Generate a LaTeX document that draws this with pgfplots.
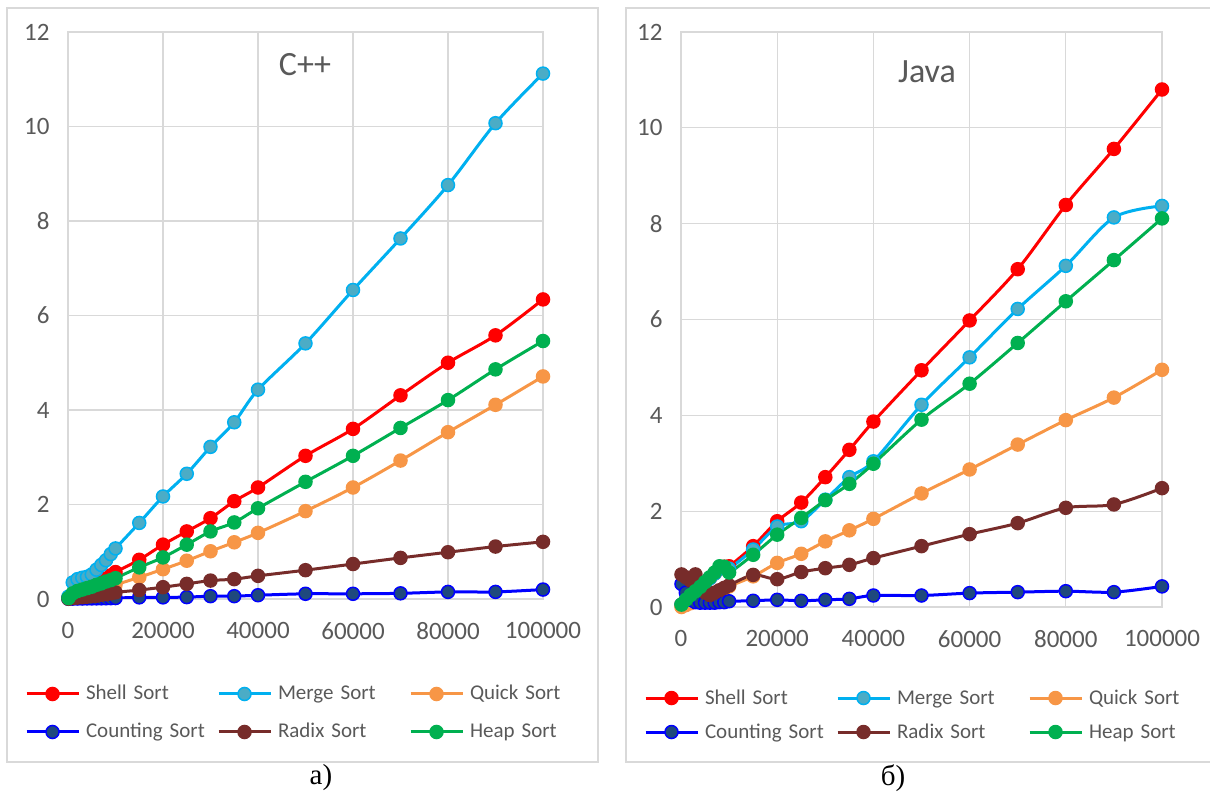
\documentclass[border=0pt]{standalone}
\usepackage{pgfplots}
\usepackage{pgfplotstable}
\pgfplotsset{compat=1.18}
\usepackage{fontspec}
\setmainfont{Carlito}
\newfontfamily\capfont{Liberation Serif}
\definecolor{cshell}{HTML}{FF0000}
\definecolor{cmerge}{HTML}{00B0F0}
\definecolor{cmergef}{HTML}{4BACC6}
\definecolor{cquick}{HTML}{F79646}
\definecolor{ccount}{HTML}{0000FF}
\definecolor{ccountf}{HTML}{1F497D}
\definecolor{cradix}{HTML}{772C2A}
\definecolor{cheap}{HTML}{00B050}
\definecolor{cgrid}{HTML}{D9D9D9}
\definecolor{ctick}{HTML}{595959}

\pgfplotstableread{
x      shell merge quick count radix heap
100    0.02  0.05  0.01  0.005 0.005 0.02
1000   0.06  0.35  0.03  0.008 0.02  0.12
2000   0.11  0.42  0.06  0.010 0.03  0.17
3000   0.16  0.45  0.09  0.010 0.04  0.20
4000   0.21  0.47  0.12  0.012 0.05  0.23
5000   0.26  0.52  0.15  0.012 0.06  0.26
6000   0.31  0.62  0.18  0.014 0.07  0.30
7000   0.37  0.72  0.21  0.015 0.09  0.33
8000   0.43  0.82  0.24  0.016 0.10  0.37
9000   0.50  0.95  0.27  0.018 0.12  0.40
10000  0.57  1.07  0.30  0.020 0.14  0.44
15000  0.83  1.61  0.46  0.035 0.19  0.67
20000  1.15  2.17  0.63  0.035 0.25  0.88
25000  1.43  2.65  0.81  0.040 0.32  1.15
30000  1.71  3.22  1.01  0.060 0.39  1.43
35000  2.07  3.74  1.20  0.060 0.42  1.62
40000  2.36  4.43  1.40  0.080 0.49  1.92
50000  3.03  5.41  1.86  0.110 0.61  2.48
60000  3.60  6.54  2.36  0.110 0.74  3.03
70000  4.31  7.63  2.93  0.120 0.87  3.62
80000  5.00  8.76  3.53  0.150 0.99  4.21
90000  5.58  10.07 4.11  0.150 1.11  4.86
100000 6.34  11.12 4.71  0.200 1.21  5.46
}\cpp

\pgfplotstableread{
x      shell merge quick count radix heap
100    0.05  0.05  0.00  0.48  0.68  0.05
1000   0.12  0.12  0.04  0.30  0.62  0.15
2000   0.20  0.20  0.08  0.15  0.55  0.25
3000   0.30  0.30  0.12  0.10  0.68  0.33
4000   0.40  0.40  0.16  0.09  0.45  0.42
5000   0.50  0.50  0.20  0.09  0.30  0.52
6000   0.60  0.60  0.24  0.09  0.25  0.62
7000   0.70  0.70  0.28  0.09  0.30  0.72
8000   0.80  0.80  0.32  0.10  0.35  0.85
9000   0.84  0.82  0.37  0.10  0.40  0.84
10000  0.85  0.80  0.43  0.12  0.45  0.72
15000  1.27  1.20  0.64  0.13  0.67  1.09
20000  1.79  1.68  0.92  0.15  0.58  1.51
25000  2.18  1.79  1.11  0.13  0.73  1.86
30000  2.71  2.24  1.37  0.15  0.81  2.23
35000  3.28  2.71  1.60  0.17  0.88  2.57
40000  3.87  3.04  1.84  0.24  1.02  2.99
50000  4.94  4.22  2.37  0.24  1.27  3.91
60000  5.98  5.21  2.87  0.29  1.52  4.66
70000  7.05  6.22  3.39  0.31  1.75  5.51
80000  8.39  7.12  3.90  0.33  2.07  6.38
90000  9.56  8.13  4.37  0.31  2.14  7.24
100000 10.80 8.37  4.95  0.43  2.48  8.11
}\java

\pgfplotsset{
  sortaxis/.style={
    scale only axis,
    xmin=0, xmax=100000, ymin=0, ymax=12,
    xtick={0,20000,40000,60000,80000,100000},
    ytick={0,2,4,6,8,10,12},
    grid=major,
    major grid style={cgrid, line width=1.3pt},
    axis line style={cgrid, line width=1.3pt},
    major tick length=0pt,
    scaled x ticks=false,
    /pgf/number format/assume math mode=true,
    xticklabel style={/pgf/number format/fixed, /pgf/number format/1000 sep={}, yshift=-20pt},
    yticklabel style={xshift=-15pt},
    tick label style={font=\fontsize{25}{25}\selectfont, text=ctick},
    every axis plot/.append style={smooth, tension=0.5, line width=3pt, mark=*, mark size=6.5pt},
    legend columns=3,
    legend cell align=left,
    legend image code/.code={\draw[mark repeat=2,mark phase=2,##1] plot coordinates {(0pt,0pt) (26pt,0pt) (52pt,0pt)};},
    legend style={draw=none, fill=none, inner sep=0pt, outer sep=0pt,
      font=\fontsize{21}{21}\selectfont, text=ctick,
      /tikz/every odd column/.append style={column sep=6pt},
      /tikz/every even column/.append style={column sep=0pt},
      nodes={inner sep=0pt, text width=131pt, align=left, text height=16pt, text depth=4pt}},
  },
  pshell/.style={color=cshell, mark options={solid, fill=cshell, line width=1.5pt}},
  pmerge/.style={color=cmerge, mark options={solid, fill=cmergef, line width=1.5pt}},
  pquick/.style={color=cquick, mark options={solid, fill=cquick, line width=1.5pt}},
  pcount/.style={color=ccount, mark options={solid, fill=ccountf, line width=1.5pt}},
  pradix/.style={color=cradix, mark options={solid, fill=cradix, line width=1.5pt}},
  pheap/.style={color=cheap, mark options={solid, fill=cheap, line width=1.5pt}},
}

\begin{document}
\begin{tikzpicture}[x=1pt,y=1pt]
\useasboundingbox (0,0) rectangle (1210,798);
\draw[cgrid, line width=1.3pt] (7,790) rectangle (598,36);
\draw[cgrid, line width=1.3pt] (626,790) rectangle (1215,36);

\begin{axis}[sortaxis, at={(68pt,199pt)}, anchor=south west, width=475pt, height=567pt,
  legend style={at={(-0.0905,-0.1499)}, anchor=north west, row sep=18pt}]
\addplot[pshell] table[x=x,y=shell]{\cpp};
\addplot[pmerge] table[x=x,y=merge]{\cpp};
\addplot[pquick] table[x=x,y=quick]{\cpp};
\addplot[pcount] table[x=x,y=count]{\cpp};
\addplot[pradix] table[x=x,y=radix]{\cpp};
\addplot[pheap] table[x=x,y=heap]{\cpp};
\legend{Shell Sort, Merge Sort, Quick Sort, Counting Sort, Radix Sort, Heap Sort}
\end{axis}

\begin{axis}[sortaxis, at={(681pt,191pt)}, anchor=south west, width=481pt, height=575pt,
  legend style={at={(-0.0769,-0.1409)}, anchor=north west, row sep=14pt}]
\addplot[pshell] table[x=x,y=shell]{\java};
\addplot[pmerge] table[x=x,y=merge]{\java};
\addplot[pquick] table[x=x,y=quick]{\java};
\addplot[pcount] table[x=x,y=count]{\java};
\addplot[pradix] table[x=x,y=radix]{\java};
\addplot[pheap] table[x=x,y=heap]{\java};
\legend{Shell Sort, Merge Sort, Quick Sort, Counting Sort, Radix Sort, Heap Sort}
\end{axis}

\node[text=ctick, font=\fontsize{34}{34}\selectfont] at (305,733) {C++};
\node[text=ctick, font=\fontsize{34}{34}\selectfont] at (927,726) {Java};
\node[font=\capfont\fontsize{29}{29}\selectfont] at (321,20) {а)};
\node[font=\capfont\fontsize{29}{29}\selectfont] at (893,20) {б)};
\end{tikzpicture}
\end{document}
